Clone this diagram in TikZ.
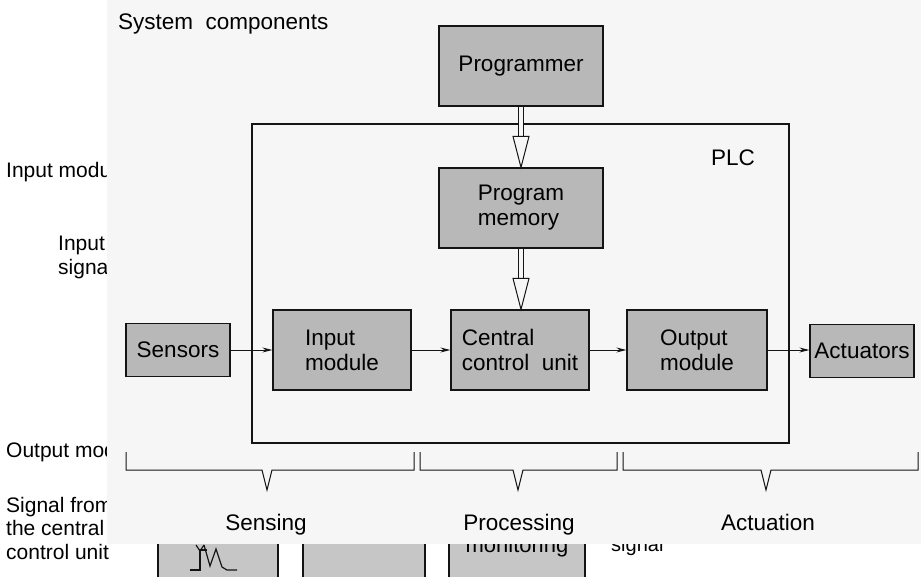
\documentclass[tikz,border=0pt]{standalone}
\usepackage{fontspec}
\setmainfont{Liberation Sans}
\usetikzlibrary{arrows.meta,calc}
\definecolor{scanbg}{RGB}{246,246,246}
\definecolor{boxfill}{RGB}{184,184,184}
\definecolor{boxfilltwo}{RGB}{198,198,198}
\definecolor{ink}{RGB}{20,20,20}
\begin{document}
\begin{tikzpicture}[x=1pt,y=-1pt,
  box/.style={draw=ink, line width=1.2pt, fill=boxfill, font=\fontsize{22.5}{25}\selectfont, align=left, inner sep=0pt},
  lowbox/.style={draw=ink, line width=1.2pt, fill=boxfilltwo, inner sep=0pt, font=\fontsize{22}{24}\selectfont},
  conn/.style={draw=ink, line width=1pt, -{Stealth[length=10pt,width=5pt]}},
  sidetext/.style={anchor=base west, inner sep=0pt, font=\fontsize{21}{24}\selectfont},
  phase/.style={inner sep=0pt, font=\fontsize{22.5}{25}\selectfont},
  bracket/.style={draw=ink, line width=1pt},
  dshaft/.style={draw=ink, line width=1pt, double=scanbg, double distance=3.5pt},
  dhead/.style={draw=ink, line width=1pt, fill=scanbg, line join=miter}
]
\useasboundingbox (0,0) rectangle (921,576);
\fill[white] (0,0) rectangle (921,576);

% --- partly hidden page underneath ---
\node[sidetext] (t1) at (6,177) {Input module};
\node[sidetext] (t2) at (58,250) {Input};
\node[sidetext] (t3) at (58,274) {signal};
\node[sidetext] (t4) at (6,457) {Output module};
\node[sidetext] (t5) at (6,512) {Signal from};
\node[sidetext] (t6) at (6,535) {the central};
\node[sidetext] (t7) at (6,559) {control unit};

\node[lowbox, minimum width=120pt, minimum height=70pt] (lb1) at (218,565) {};
\node[lowbox, minimum width=122pt, minimum height=70pt] (lb2) at (364,565) {};
\node[lowbox, minimum width=136pt, minimum height=70pt] (lb3) at (517,565) {};
\node[anchor=base, inner sep=0pt, font=\fontsize{22}{24}\selectfont] (mon) at (517,552) {monitoring};
\node[sidetext, font=\fontsize{20}{22}\selectfont] (sig) at (611,551) {signal};
\draw[ink, line width=1.2pt] (190,570) -- (200,570) -- (200,550) -- (207,550);
\draw[ink, line width=1.2pt] (204,545) -- (210,566) -- (216,549) -- (222,567) -- (227,570) -- (237,570);
\draw[ink, line width=1.2pt] (196,545) -- (200,551) -- (204,545);

% --- scanned sheet ---
\fill[scanbg] (107,0) rectangle (921,544);

\node[anchor=west, inner sep=0pt, font=\fontsize{22.5}{25}\selectfont] (title) at (118,24) {System\ \ components};

\draw[ink, line width=1.1pt] (252,124) rectangle (789,443);
\node[phase] (plc) at (733,158) {PLC};

\node[box, minimum width=164pt, minimum height=80pt] (prog) at (521,66) {Programmer};
\node[box, minimum width=164pt, minimum height=80pt] (mem) at (521,208) {Program\\memory};
\node[box, minimum width=138pt, minimum height=80pt] (ccu) at (520,350) {Central\\control\ \ unit};
\node[box, minimum width=138pt, minimum height=80pt] (inm) at (342,350) {Input\\module};
\node[box, minimum width=140pt, minimum height=80pt] (outm) at (697,350) {Output\\module};
\node[box, minimum width=104pt, minimum height=53pt] (sens) at (178,350) {Sensors};
\node[box, minimum width=104pt, minimum height=53pt] (act) at (862,351) {Actuators};

% hollow double arrows
\coordinate (h1) at ($(mem.north)+(0,-31)$);
\coordinate (h2) at ($(ccu.north)+(1,-31)$);
\draw[dshaft] (prog.south) -- (h1);
\draw[dhead] ($(h1)+(-8,0)$) -- ($(h1)+(8,0)$) -- (mem.north) -- cycle;
\draw[dshaft] (mem.south) -- (h2);
\draw[dhead] ($(h2)+(-8,0)$) -- ($(h2)+(8,0)$) -- ($(ccu.north)+(1,0)$) -- cycle;

% signal flow
\draw[conn] (sens) -- (inm);
\draw[conn] (inm) -- (ccu);
\draw[conn] (ccu) -- (outm);
\draw[conn] (outm.east) -- (act.west |- outm.east);

% brackets
\draw[bracket] (126,452) -- (126,470) -- (262,470) -- (267,490) -- (272,470) -- (414,470) -- (414,452);
\draw[bracket] (420,452) -- (420,470) -- (513,470) -- (518,490) -- (523,470) -- (617,470) -- (617,452);
\draw[bracket] (623,452) -- (623,470) -- (761,470) -- (766,490) -- (771,470) -- (918,470) -- (918,452);

\node[phase, anchor=base] (sensing) at (266,530) {Sensing};
\node[phase, anchor=base] (processing) at (519,530) {Processing};
\node[phase, anchor=base] (actuation) at (768,530) {Actuation};
\end{tikzpicture}
\end{document}
